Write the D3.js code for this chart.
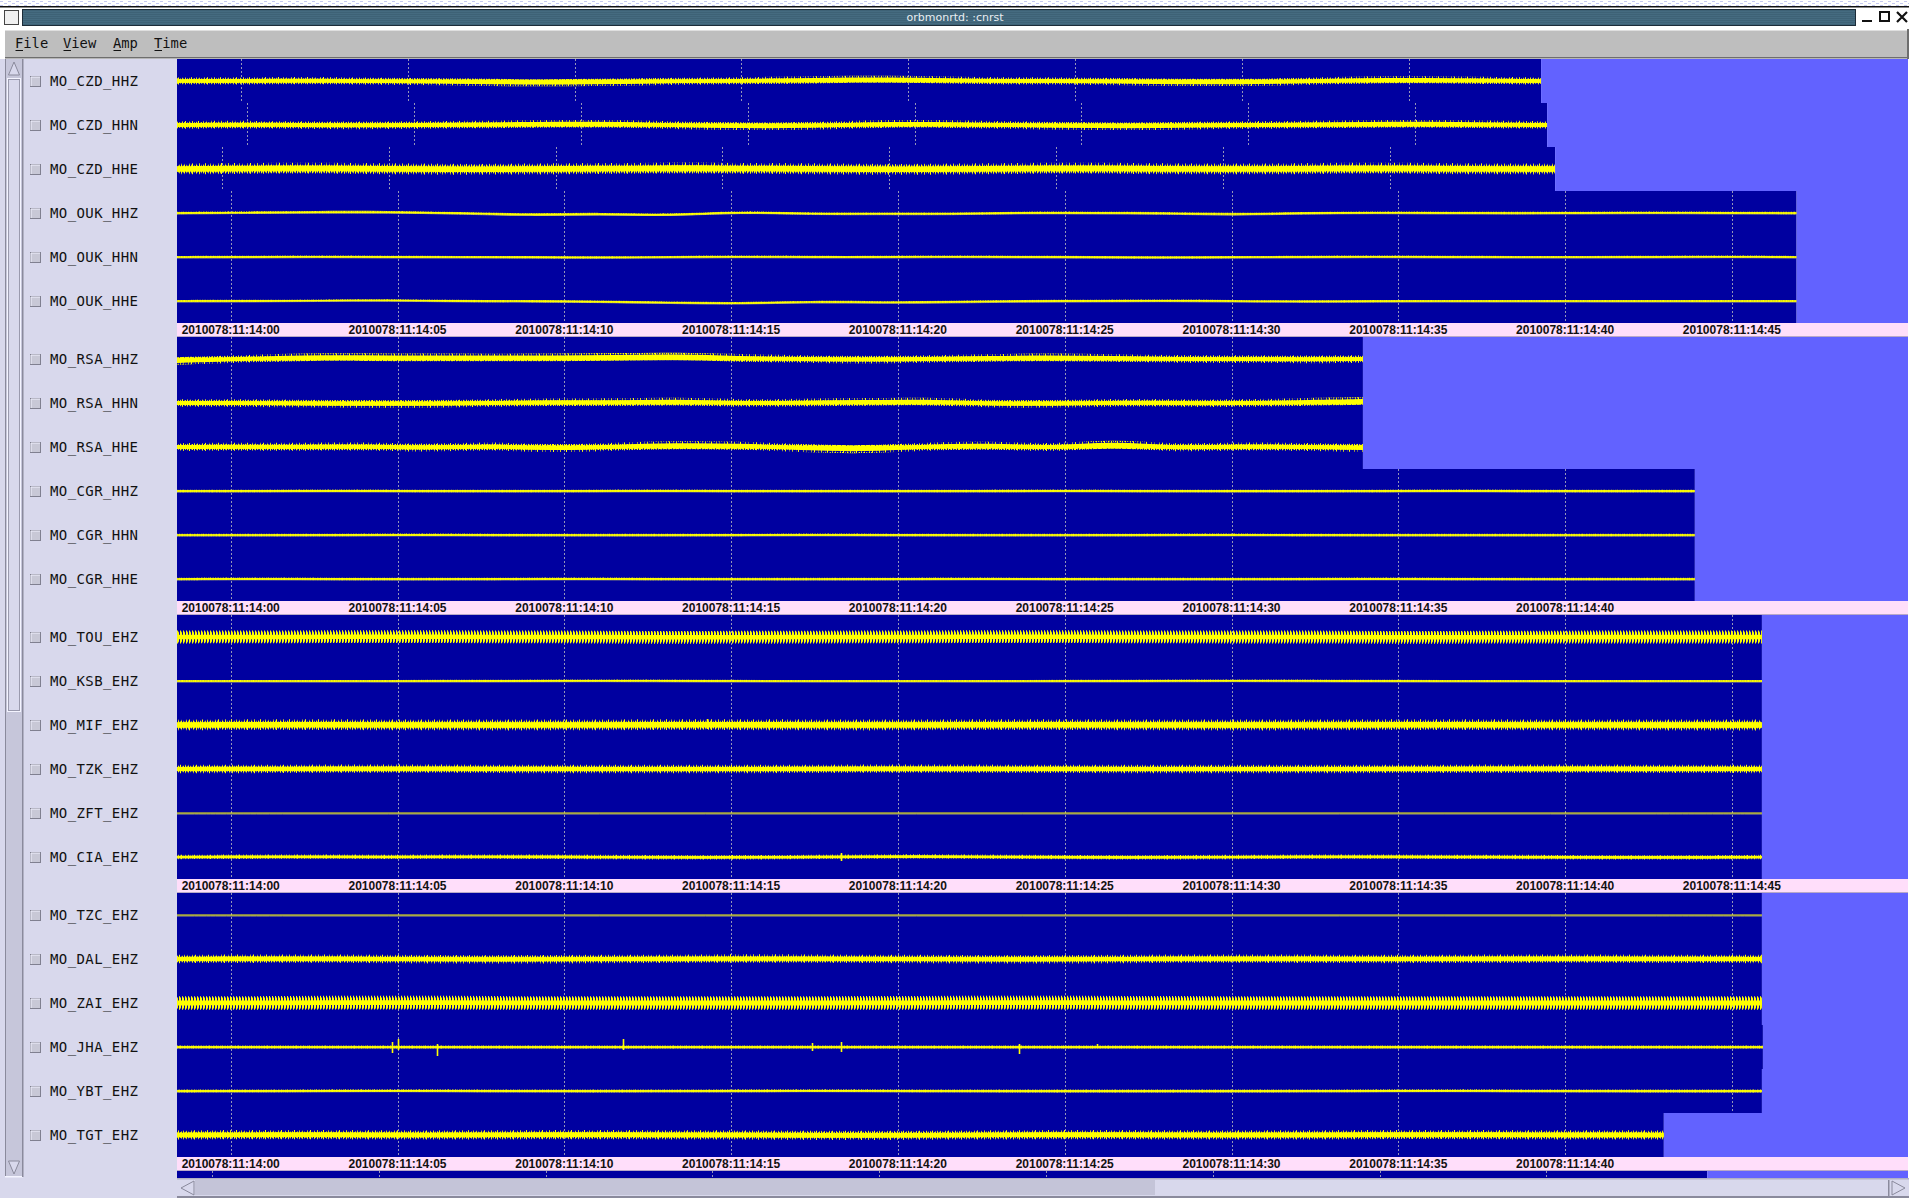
<!DOCTYPE html>
<html lang="en">
<head>
<meta charset="UTF-8">
<title>orbmonrtd: :cnrst</title>
<script src="https://d3js.org/d3.v7.min.js"></script>
<style>
  body { margin: 0; background: #fff; overflow: hidden; }
  svg { display: block; }
  .lbl { font-family: "DejaVu Sans Mono", monospace; font-size: 14px; letter-spacing: 0.4px; fill: #111; }
  .tl { font-family: "Liberation Sans", Arial, sans-serif; font-size: 12px; font-weight: bold; fill: #111; }
  .menu { font-family: "DejaVu Sans Mono", monospace; font-size: 13.8px; fill: #111; }
  .title { font-family: "DejaVu Sans", sans-serif; font-size: 11px; fill: #e8eef2; }
</style>
</head>
<body>
<div id="chart"></div>
<script>
// channel names, one list per display group
var g1Names = ["MO_CZD_HHZ", "MO_CZD_HHN", "MO_CZD_HHE", "MO_OUK_HHZ", "MO_OUK_HHN", "MO_OUK_HHE"];
var g2Names = ["MO_RSA_HHZ", "MO_RSA_HHN", "MO_RSA_HHE", "MO_CGR_HHZ", "MO_CGR_HHN", "MO_CGR_HHE"];
var g3Names = ["MO_TOU_EHZ", "MO_KSB_EHZ", "MO_MIF_EHZ", "MO_TZK_EHZ", "MO_ZFT_EHZ", "MO_CIA_EHZ"];
var g4Names = ["MO_TZC_EHZ", "MO_DAL_EHZ", "MO_ZAI_EHZ", "MO_JHA_EHZ", "MO_YBT_EHZ", "MO_TGT_EHZ"];

// last sample time of each channel, seconds after 11:14:00
var g1End = [39.28, 39.46, 39.70, 46.94, 46.94, 46.94];
var g2End = [33.94, 33.94, 33.94, 43.89, 43.89, 43.89];
var g3End = [45.90, 45.90, 45.90, 45.90, 45.90, 45.90];
var g4End = [45.90, 45.90, 45.90, 45.93, 45.90, 42.96];

// time-mark offset per channel (s)
var g1Shift = [0.31, 0.50, -0.26, 0, 0, 0];
var g2Shift = [0, 0, 0, 0, 0, 0];
var g3Shift = [0, 0, 0, 0, 0, 0];
var g4Shift = [0, 0, 0, 0, 0, 0];

// noise half-width (counts)
var g1Amp = [3.6, 3.8, 5.4, 1.2, 1.1, 1.1];
var g2Amp = [3.8, 3.8, 4.0, 1.3, 1.2, 1.2];
var g3Amp = [6.4, 1.1, 5.4, 4.2, 0.3, 2.2];
var g4Amp = [0.3, 4.2, 6.8, 1.4, 1.4, 4.6];

// slow drift of each trace, evenly spaced over the record (counts, up = +)
var g1Wander = [
  [0, 0, 0.5, 0, -0.5, -1, -2, -1.5, -0.5, 0, 0.5, 1.5, 2, 1, 0, 0, -0.5, -1.5, -1.5, -0.5, 1, 1.5, 0.5, 0],
  [0, 0.5, 0, -0.5, 0, 0.5, 1, 1.5, 0.5, -1, -1.5, -0.5, 1.5, 1, 0, -1, -1.5, -0.5, 0, 0.5, 1, 1.5, 0.5, 0],
  [0, 0.5, 1, 0.5, 0, -0.5, 0, 0.5, 1, 1, 0.5, 0, -0.5, 0, 0.5, 1, 0.5, 0, 0, 0.5, 1, 0.5, 0, 0],
  [0, 0.5, 1, 1, 0, -2, -0.5, -2.5, 1.5, -1, -0.5, -1, 0.5, 0, 0, -1.5, 0, 0.5, 0, 0, 0, 0.5, 0, 0],
  [0, 0, 0.5, 0, 0, 0, -0.5, 0, 0.5, 0, 0, 0.5, 0, 0, -0.5, 0, 0, 0.5, 0, 0, 0, 0, 0.5, 0],
  [0, 0, 0.5, 1, 0, 0, -0.5, -1.5, -2.5, -0.5, -1.5, -1, 0, 0, 0.5, 0, -0.5, 0, 0, 0, 0, 0, 0, 0]
];
var g2Wander = [
  [-2, 0, 2, 2, 1.5, 1.5, 1.5, 2, 3, 1, 0, -1, 0, 1, 2, 1, 0, 0, -0.5, 0],
  [0, 0, -0.5, -1, -1, 0, 1, 0.5, 2, -0.5, 0.5, 1, 2, -1, -1, 0.5, 0, -0.5, 1, 2],
  [0, 0.5, 0, 1, -1.5, 1.5, -2, 0.5, 2, 1.5, -1, -3, 0.5, 2, -1.5, 4, -1.5, 1, 0, -1],
  [0, 0, 0.3, 0, 0, 0, 0.3, 0, 0, 0, 0, 0.3, 0, 0, 0, 0, 0.3, 0, 0, 0],
  [0, 0, 0, 0.3, 0, 0, 0, 0, 0.3, 0, 0, 0, 0, 0.3, 0, 0, 0, 0, 0, 0],
  [0, 0.3, 0, 0, 0, 0.3, 0, 0, 0, 0, 0.3, 0, 0, 0, 0, 0.3, 0, 0, 0, 0]
];
var g3Wander = [
  [0, 0, 0.5, 0, 0, -0.5, 0, 0, 0.5, 0, 0, 0, -0.5, 0, 0, 0],
  [0, 0, 0, 0, 0.5, 0, 0, 0, 0, 0, 0.5, 0, 0, 0, 0, 0],
  [0, 0.5, 0, 0, 0, 0.5, 0, 0, 0.5, 0, 0, 0, 0.5, 0, 0, 0],
  [0, 0, 0.5, 0, 0, 0, 0, 0.5, 0, 0, 0, 0, 0, 0.5, 0, 0],
  [0, 0, 0, 0, 0, 0, 0, 0, 0, 0, 0, 0, 0, 0, 0, 0],
  [0, 0.5, 0, 0.5, 0, -0.5, 0, 1, 0, -0.5, 0, 0.5, 0, 0, -0.5, 0]
];
var g4Wander = [
  [0, 0, 0, 0, 0, 0, 0, 0, 0, 0, 0, 0, 0, 0, 0, 0],
  [0, 0.5, 0, -0.5, 0, 0.5, 0.5, 0, -0.5, 0, 0.5, 0, 0, 0.5, 0, 0],
  [0, 0, 0.5, 0, 0, 0, 0, 0, 0.5, 0, 0, 0, 0, 0, 0, 0],
  [0, 0, 0, 0, 0, 0, 0, 0, 0, 0, 0, 0, 0, 0, 0, 0],
  [0, 0, 0.5, 0, 0, 0, 0.5, 0, 0, 0, 0, 0, 0.5, 0, 0, 0],
  [0, 0.5, 0, 0, 0.5, 0, 0, -0.5, 0, 0.5, 0, 0, 0.5, 0.5, 0, 0]
];

// isolated transients
var spikeChan = ["MO_JHA_EHZ", "MO_JHA_EHZ", "MO_JHA_EHZ", "MO_JHA_EHZ", "MO_JHA_EHZ", "MO_JHA_EHZ", "MO_JHA_EHZ", "MO_JHA_EHZ", "MO_CIA_EHZ", "MO_MIF_EHZ"];
var spikeSec  = [4.83, 5.01, 6.17, 11.76, 17.42, 18.29, 23.63, 25.97, 18.3, 14.28];
var spikeUp   = [5, 8, 3, 8, 4, 5, 3, 3, 4, 6];
var spikeDown = [6, 3, 9, 3, 4, 5, 7, 1, 4, 4];

// time-mark seconds under each group
var g1Ticks = [0, 5, 10, 15, 20, 25, 30, 35, 40, 45];
var g2Ticks = [0, 5, 10, 15, 20, 25, 30, 35, 40];
var g3Ticks = [0, 5, 10, 15, 20, 25, 30, 35, 40, 45];
var g4Ticks = [0, 5, 10, 15, 20, 25, 30, 35, 40];

// next (partly scrolled) row at the bottom
var nextEnd = 44.26, nextShift = -0.56;

var menuItems = ["File", "View", "Amp", "Time"];

var groups = [
  {names: g1Names, end: g1End, shift: g1Shift, amp: g1Amp, wander: g1Wander, ticks: g1Ticks},
  {names: g2Names, end: g2End, shift: g2Shift, amp: g2Amp, wander: g2Wander, ticks: g2Ticks},
  {names: g3Names, end: g3End, shift: g3Shift, amp: g3Amp, wander: g3Wander, ticks: g3Ticks},
  {names: g4Names, end: g4End, shift: g4Shift, amp: g4Amp, wander: g4Wander, ticks: g4Ticks}
];

var W = 1911, H = 1198;
var plotLeft = 177, plotRight = 1908;
var rowH = 44, barH = 14, top0 = 59;
var groupH = rowH * 6 + barH;
var gridSec = d3.range(0, 50, 5);

var dark = "#0000a0", light = "#6262ff", pink = "#ffdefa", lav = "#d8d8ec";
// column heights of the noise texture used to paint trace bands
var jagTex = [0.55, 0.9, 0.4, 0.75, 1, 0.5, 0.65, 0.35, 0.85, 0.6, 0.45, 0.95, 0.5, 0.7, 0.4,
              0.8, 0.55, 1, 0.45, 0.6, 0.75, 0.35, 0.9, 0.5, 0.65, 0.85, 0.4, 0.7, 0.55];

var x = d3.scaleLinear().domain([0, 45]).range([230.7, 1731.9]);
var t0 = x.invert(plotLeft);
var fmt = d3.format("02d");

var svg = d3.select("#chart").append("svg")
    .attr("width", W).attr("height", H);

var defs = svg.append("defs");
var desk = defs.append("pattern").attr("id", "desk")
    .attr("width", 8).attr("height", 4).attr("patternUnits", "userSpaceOnUse");
desk.append("rect").attr("x", 0).attr("y", 1).attr("width", 3).attr("height", 1).attr("fill", "#c4c8f0");
desk.append("rect").attr("x", 4).attr("y", 3).attr("width", 3).attr("height", 1).attr("fill", "#c4c8f0");
var stripes = defs.append("pattern").attr("id", "stripes")
    .attr("width", 4).attr("height", 2).attr("patternUnits", "userSpaceOnUse");
stripes.append("rect").attr("width", 4).attr("height", 2).attr("fill", "#456b80");
stripes.append("rect").attr("width", 4).attr("height", 1).attr("fill", "#3e6276");

// ---- window chrome ----
svg.append("rect").attr("width", W).attr("height", H).attr("fill", "#fff");
svg.append("rect").attr("width", W).attr("height", 7).attr("fill", "url(#desk)");
svg.append("rect").attr("y", 6).attr("width", W).attr("height", 1.5).attr("fill", "#111");

svg.append("rect").attr("x", 4.5).attr("y", 10.5).attr("width", 14).attr("height", 14)
    .attr("fill", "#f0f0f0").attr("stroke", "#444");
svg.append("rect").attr("x", 22.5).attr("y", 9.5).attr("width", 1833).attr("height", 16)
    .attr("fill", "url(#stripes)").attr("stroke", "#1c2c38");
svg.append("text").attr("class", "title").attr("x", 955).attr("y", 21)
    .attr("text-anchor", "middle").text("orbmonrtd:  :cnrst");
svg.append("rect").attr("x", 1862).attr("y", 20).attr("width", 10).attr("height", 2).attr("fill", "#111");
svg.append("rect").attr("x", 1880).attr("y", 12).attr("width", 9).attr("height", 9)
    .attr("fill", "none").attr("stroke", "#111").attr("stroke-width", 2);
svg.append("path").attr("d", "M1897,12L1907,22M1907,12L1897,22")
    .attr("stroke", "#111").attr("stroke-width", 2.2);

// menu bar
svg.append("rect").attr("x", 5).attr("y", 29).attr("width", 1904).attr("height", 29).attr("fill", "#bebebe");
svg.append("rect").attr("x", 5).attr("y", 29).attr("width", 1904).attr("height", 1.5).attr("fill", "#fff");
svg.append("rect").attr("x", 5).attr("y", 57).attr("width", 1904).attr("height", 1.5).attr("fill", "#6e6e6e");
svg.append("rect").attr("x", 1907).attr("y", 29).attr("width", 2).attr("height", 30).attr("fill", "#6e6e6e");
var menuX = [15, 63, 113, 154];
menuItems.forEach(function(m, i) {
  svg.append("text").attr("class", "menu").attr("x", menuX[i]).attr("y", 48).text(m);
  svg.append("rect").attr("x", menuX[i] + 0.5).attr("y", 50).attr("width", 7.5).attr("height", 1).attr("fill", "#111");
});

// left side panel + vertical scrollbar
svg.append("rect").attr("x", 0).attr("y", 59).attr("width", plotLeft).attr("height", H - 59).attr("fill", lav);
svg.append("rect").attr("x", 5).attr("y", 59).attr("width", 1).attr("height", 1118).attr("fill", "#8a8a9c");
svg.append("rect").attr("x", 6).attr("y", 59).attr("width", 16).attr("height", 1117).attr("fill", "#c6c6da");
svg.append("rect").attr("x", 7.5).attr("y", 78.5).attr("width", 13).attr("height", 633)
    .attr("fill", lav).attr("stroke", "#f4f4ff");
svg.append("rect").attr("x", 8.5).attr("y", 79.5).attr("width", 11).attr("height", 631)
    .attr("fill", "none").attr("stroke", "#9a9aae");
svg.append("path").attr("d", "M14,62L8.5,75L19.5,75Z").attr("fill", lav).attr("stroke", "#8a8a9c");
svg.append("path").attr("d", "M8.5,1161L19.5,1161L14,1174Z").attr("fill", lav).attr("stroke", "#8a8a9c");
svg.append("rect").attr("x", 5).attr("y", 1176).attr("width", 18).attr("height", 1.5).attr("fill", "#f4f4ff");
svg.append("rect").attr("x", 22).attr("y", 59).attr("width", 1.5).attr("height", 1118).attr("fill", "#8a8a9c");

// ---- trace rows ----
var rowIndex = 0;
groups.forEach(function(g, gi) {
  var gTop = top0 + gi * groupH;

  g.names.forEach(function(name, ri) {
    var ix = rowIndex++;
    var rTop = gTop + ri * rowH;
    var cy = rTop + rowH / 2;
    var endX = x(g.end[ri]);
    var row = svg.append("g");

    row.append("rect").attr("x", plotLeft).attr("y", rTop).attr("width", endX - plotLeft)
        .attr("height", rowH).attr("fill", dark);
    row.append("rect").attr("x", endX).attr("y", rTop).attr("width", plotRight - endX)
        .attr("height", rowH).attr("fill", light);

    // time marks
    row.selectAll(".grid").data(gridSec.filter(function(s) {
          var gx = x(s + g.shift[ri]);
          return gx > plotLeft && gx < endX;
        }))
      .enter().append("line")
        .attr("x1", function(s) { return Math.round(x(s + g.shift[ri])) + 0.5; })
        .attr("x2", function(s) { return Math.round(x(s + g.shift[ri])) + 0.5; })
        .attr("y1", rTop).attr("y2", rTop + rowH)
        .attr("stroke", "#9494b8").attr("stroke-dasharray", "2,2");

    // trace
    var y = d3.scaleLinear().domain([-22, 22]).range([rTop + rowH, rTop]);
    var wv = g.wander[ri], a = g.amp[ri];
    var tEnd = g.end[ri];
    var pts = wv.map(function(v, i) {
      return {t: t0 + i * (tEnd - t0) / (wv.length - 1), v: v};
    });

    // band texture: regular hatching for the strongly ringing channels, ragged otherwise
    var ring = a >= 6;
    var pat = defs.append("pattern").attr("id", "tex" + ix)
        .attr("patternUnits", "userSpaceOnUse")
        .attr("width", ring ? 3 : jagTex.length).attr("height", 2)
        .attr("patternTransform", "translate(" + (ix * 7) + "," + (cy - a) + ") scale(1," + a + ")");
    if (ring) {
      pat.append("rect").attr("x", 0).attr("y", 0).attr("width", 1).attr("height", 2).attr("fill", "#ffff00");
      pat.append("rect").attr("x", 1).attr("y", 0.2).attr("width", 1).attr("height", 1.6).attr("fill", "#ffff00");
    } else {
      jagTex.forEach(function(h, k) {
        pat.append("rect").attr("x", k).attr("y", 1 - h).attr("width", 1).attr("height", 2 * h)
            .attr("fill", "#ffff00");
      });
    }

    var clipId = "clip" + ix;
    defs.append("clipPath").attr("id", clipId).append("rect")
        .attr("x", plotLeft).attr("y", rTop).attr("width", endX - plotLeft).attr("height", rowH);
    var tr = row.append("g").attr("clip-path", "url(#" + clipId + ")");

    var band = function(k) {
      return d3.area().curve(d3.curveBasis)
        .x(function(d) { return x(d.t); })
        .y0(function(d) { return y(d.v - a * k); })
        .y1(function(d) { return y(d.v + a * k); });
    };
    var mid = d3.line().curve(d3.curveBasis)
        .x(function(d) { return x(d.t); })
        .y(function(d) { return y(d.v); });

    tr.append("path").attr("d", mid(pts)).attr("transform", "translate(0,1)")
        .attr("fill", "none").attr("stroke", "#a4a470").attr("stroke-width", 1);
    if (a > 0.5) {
      tr.append("path").attr("d", band(1)(pts)).attr("fill", "url(#tex" + ix + ")");
      tr.append("path").attr("d", band(ring ? 0.35 : 0.5)(pts)).attr("fill", "#ffff00");
    }
    tr.append("path").attr("d", mid(pts))
        .attr("fill", "none").attr("stroke", "#ffff00").attr("stroke-width", 1.2);

    // transients
    spikeChan.forEach(function(c, si) {
      if (c !== name) return;
      tr.append("line")
          .attr("x1", Math.round(x(spikeSec[si])) + 0.5).attr("x2", Math.round(x(spikeSec[si])) + 0.5)
          .attr("y1", y(spikeUp[si])).attr("y2", y(-spikeDown[si]))
          .attr("stroke", "#ffff00").attr("stroke-width", 1.6);
    });

    // channel label
    svg.append("rect").attr("x", 30.5).attr("y", cy - 4.5).attr("width", 10).attr("height", 10)
        .attr("fill", "#c8c8d6").attr("stroke", "#808090");
    svg.append("path").attr("d", "M31," + (cy + 5) + "L31," + (cy - 4) + "L40," + (cy - 4))
        .attr("fill", "none").attr("stroke", "#f2f2ff");
    svg.append("text").attr("class", "lbl").attr("x", 50).attr("y", cy + 5).text(name);
  });

  // time bar
  var bTop = gTop + rowH * 6;
  svg.append("rect").attr("x", plotLeft).attr("y", bTop).attr("width", plotRight - plotLeft)
      .attr("height", barH).attr("fill", pink);
  svg.append("rect").attr("x", plotLeft).attr("y", bTop + barH - 1).attr("width", plotRight - plotLeft)
      .attr("height", 1).attr("fill", "#b8a8c8");
  svg.selectAll(".tl" + gi).data(g.ticks).enter().append("text")
      .attr("class", "tl").attr("text-anchor", "middle")
      .attr("x", function(s) { return x(s); })
      .attr("y", bTop + 11)
      .text(function(s) { return "2010078:11:14:" + fmt(s); });
});

// partially scrolled row under the last group
var nTop = top0 + 4 * groupH;
var nEndX = x(nextEnd);
svg.append("rect").attr("x", plotLeft).attr("y", nTop).attr("width", nEndX - plotLeft)
    .attr("height", 7).attr("fill", dark);
svg.append("rect").attr("x", nEndX).attr("y", nTop).attr("width", plotRight - nEndX)
    .attr("height", 7).attr("fill", light);
svg.selectAll(".ngrid").data(gridSec.filter(function(s) {
      var gx = x(s + nextShift); return gx > plotLeft && gx < nEndX;
    }))
  .enter().append("line")
    .attr("x1", function(s) { return Math.round(x(s + nextShift)) + 0.5; })
    .attr("x2", function(s) { return Math.round(x(s + nextShift)) + 0.5; })
    .attr("y1", nTop).attr("y2", nTop + 7)
    .attr("stroke", "#9494b8").attr("stroke-dasharray", "2,2");

// horizontal scrollbar
var sTop = nTop + 7;
svg.append("rect").attr("x", plotLeft).attr("y", sTop).attr("width", plotRight - plotLeft + 1)
    .attr("height", H - sTop).attr("fill", lav);
svg.append("rect").attr("x", plotLeft).attr("y", sTop).attr("width", plotRight - plotLeft + 1)
    .attr("height", 1.5).attr("fill", "#b0b0c4");
svg.append("rect").attr("x", 195).attr("y", sTop + 2).attr("width", 960).attr("height", 15).attr("fill", "#c4c4d8");
svg.append("rect").attr("x", 1888).attr("y", sTop + 2).attr("width", 1.5).attr("height", 16).attr("fill", "#8a8a9c");
svg.append("path").attr("d", "M181," + (sTop + 10) + "L194," + (sTop + 3) + "L194," + (sTop + 17) + "Z")
    .attr("fill", lav).attr("stroke", "#8a8a9c");
svg.append("path").attr("d", "M1905," + (sTop + 10) + "L1892," + (sTop + 3) + "L1892," + (sTop + 17) + "Z")
    .attr("fill", lav).attr("stroke", "#8a8a9c");
svg.append("rect").attr("x", plotLeft).attr("y", H - 2).attr("width", plotRight - plotLeft + 1)
    .attr("height", 2).attr("fill", "#8a8a9c");
svg.append("rect").attr("x", 1909).attr("y", 0).attr("width", 2).attr("height", H).attr("fill", "#fff");
</script>
</body>
</html>
